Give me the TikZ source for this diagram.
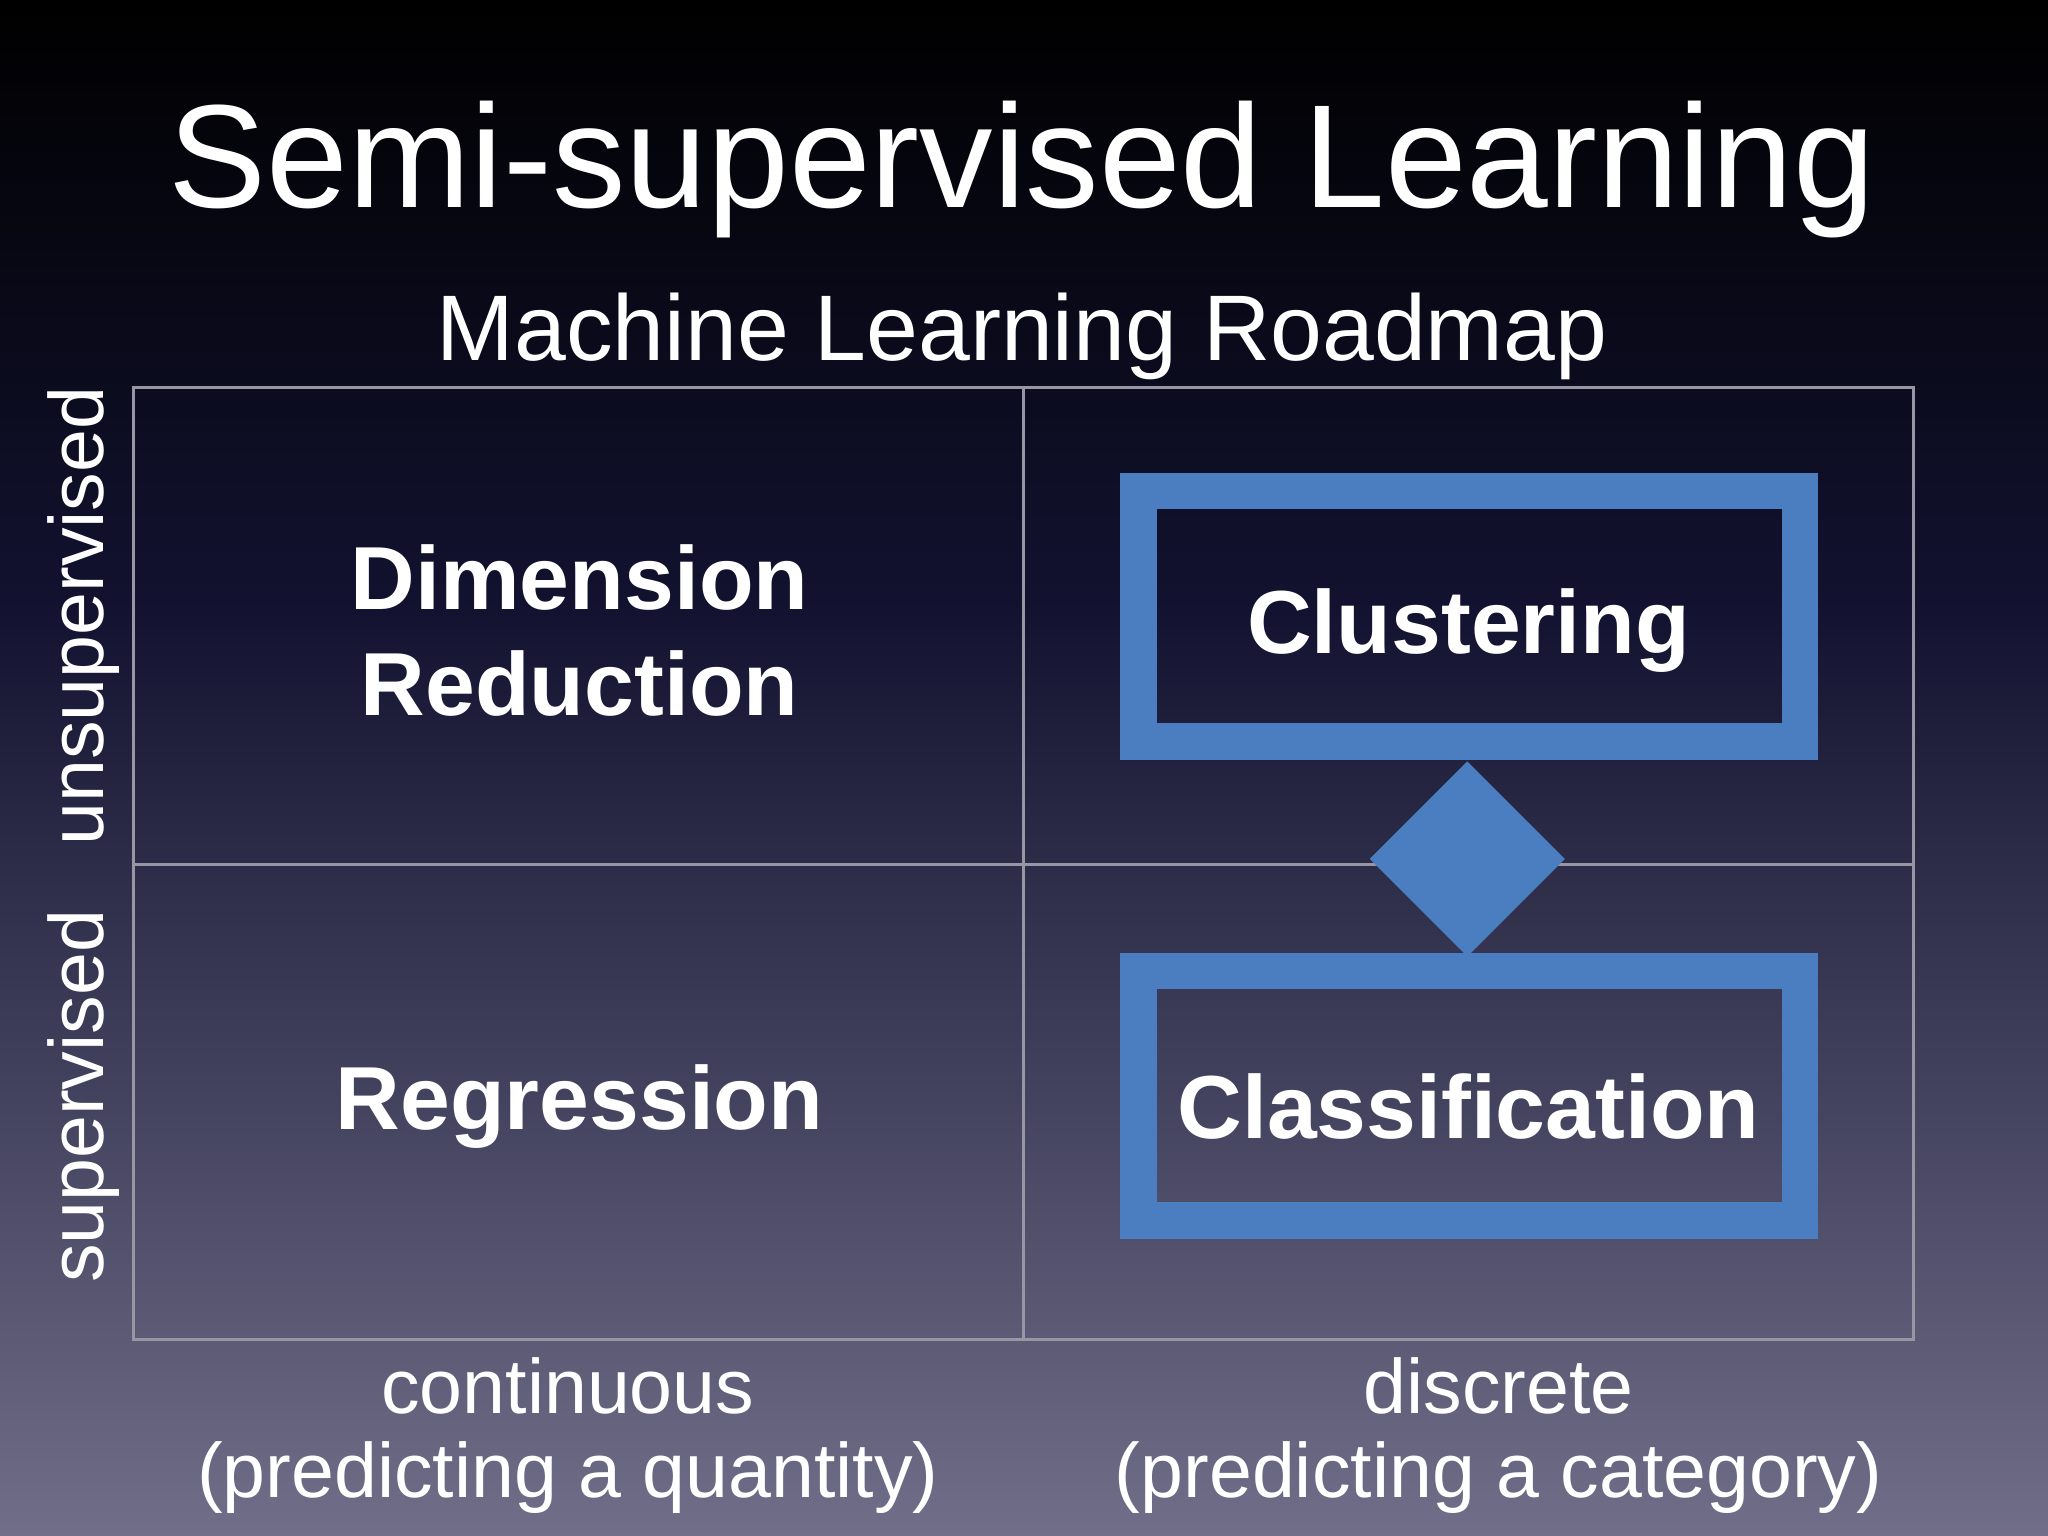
\documentclass[tikz,border=0pt]{standalone}
\usepackage{fontspec}
\setmainfont{Liberation Sans}
\usetikzlibrary{shapes.geometric}
\definecolor{bgtop}{RGB}{0,0,0}
\definecolor{bgmid}{RGB}{18,18,48}
\definecolor{bgbot}{RGB}{112,110,136}
\definecolor{boxblue}{RGB}{74,126,192}
\definecolor{gridgray}{RGB}{150,150,165}
\tikzset{
  grid/.style={draw=gridgray, line width=0.6pt},
  big/.style={text=white, font=\fontsize{19.5}{23}\selectfont\bfseries, align=center},
  axis/.style={text=white, font=\fontsize{16.8}{19}\selectfont},
  frame/.style={draw=boxblue, line width=28*0.2845pt},
}
\begin{document}
\begin{tikzpicture}[x=0.01cm,y=-0.01cm]
\shade[top color=bgtop, bottom color=bgmid] (0cm,0cm) rectangle (15.68cm,-4.6cm);
\shade[top color=bgmid, bottom color=bgbot] (0cm,-4.6cm) rectangle (15.68cm,-11.76cm);
\useasboundingbox (0,0) rectangle (1568,1176);
\node[text=white, font=\fontsize{32}{36}\selectfont] (title) at (783,130) {Semi-supervised Learning};
\node[text=white, font=\fontsize{20.3}{24}\selectfont] (sub) at (783,258) {Machine Learning Roadmap};
\draw[grid] (102,297) rectangle (1466,1026);
\draw[grid] (784,297) -- (784,1026);
\draw[grid] (102,662) -- (1466,662);
\node[axis, rotate=90] (uns) at (64,472) {unsupervised};
\node[axis, rotate=90] (sup) at (64,840) {supervised};
\node[axis] (cont) at (435,1062) {continuous};
\node[axis] (contq) at (435,1132) {(predicting a quantity)};
\node[axis] (disc) at (1148,1062) {discrete};
\node[axis] (discq) at (1148,1132) {(predicting a category)};
\draw[frame] (872,376) rectangle (1379,568);
\draw[frame] (872,744) rectangle (1379,935);
\node[diamond, fill=boxblue, minimum width=150*0.2845pt, minimum height=150*0.2845pt, inner sep=0pt] (dia) at (1124,658) {};
\node[big] (dim) at (444,483) {Dimension\\Reduction};
\node[big] (reg) at (444,848) {Regression};
\node[big] (clu) at (1125,483) {Clustering};
\node[big] (cla) at (1125,848) {Classification};
\end{tikzpicture}
\end{document}
